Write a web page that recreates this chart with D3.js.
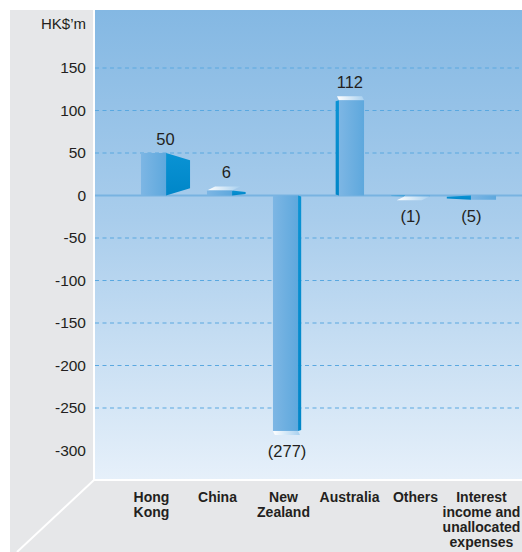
<!DOCTYPE html>
<html>
<head>
<meta charset="utf-8">
<script src="https://cdn.jsdelivr.net/npm/d3@7"></script>
<style>
  html, body { margin: 0; padding: 0; background: #fff; }
  svg { display: block; font-family: 'Liberation Sans', Arial, sans-serif; }
</style>
</head>
<body>
<svg id="chart" width="522" height="552"></svg>
<script>
// Data
var categories = ['Hong Kong', 'China', 'New Zealand', 'Australia', 'Others', 'Interest income and unallocated expenses']
var categoryLines = [['Hong', 'Kong'], ['China'], ['New', 'Zealand'], ['Australia'], ['Others'], ['Interest', 'income and', 'unallocated', 'expenses']]
var values = [50, 6, -277, 112, -1, -5]
var valueLabels = ['50', '6', '(277)', '112', '(1)', '(5)']
var tickValues = [150, 100, 50, 0, -50, -100, -150, -200, -250, -300]
var unitLabel = 'HK$\u2019m'

// Layout
var W = 522, H = 552
var panel = { x: 95, y: 10, w: 427, h: 469 }
var vpX = 318       // where the bars "turn" from right side to left side
var sideK = 0.158   // side depth per px distance from vpX

var svg = d3.select('#chart')
var defs = svg.append('defs')

function vGrad(id, stops, horiz) {
  var g = defs.append('linearGradient').attr('id', id)
    .attr('x1', 0).attr('y1', 0).attr('x2', horiz ? 1 : 0).attr('y2', horiz ? 0 : 1)
  stops.forEach(function(s) {
    g.append('stop').attr('offset', s[0]).attr('stop-color', s[1])
  })
}
vGrad('bgGrad', [[0, '#84b8e3'], [0.45, '#a9cdec'], [1, '#e6f0fa']])
vGrad('frontGrad', [[0, '#7db6e4'], [1, '#5ea8dd']], true)
vGrad('sideGrad', [[0, '#0a93d4'], [1, '#0086c8']])
vGrad('capGrad', [[0, '#ffffff'], [1, '#a8d0ef']], true)

// gray room
svg.append('rect').attr('x', 10).attr('y', 10).attr('width', W - 10).attr('height', H - 10).attr('fill', '#e6e7e9')
svg.append('line').attr('x1', panel.x - 1).attr('y1', panel.y + panel.h + 1)
  .attr('x2', 17).attr('y2', H).attr('stroke', '#fff').attr('stroke-width', 2)
svg.append('rect').attr('x', panel.x - 2).attr('y', panel.y).attr('width', panel.w + 2).attr('height', panel.h + 2).attr('fill', '#fff')
svg.append('rect').attr('x', panel.x).attr('y', panel.y).attr('width', panel.w).attr('height', panel.h).attr('fill', 'url(#bgGrad)')

// scales
var y = d3.scaleLinear().domain([-300, 150]).range([450.5, 68])
var x = d3.scaleBand().domain(categories).range([120.5, 516.5]).paddingInner(0.62).paddingOuter(0.31)
var bw = x.bandwidth()

// axis labels (plain hyphen minus like the print)
var yAxis = d3.axisLeft(y).tickValues(tickValues).tickSize(0).tickPadding(0).tickFormat(function(d) { return String(d) })
var ax = svg.append('g').attr('transform', 'translate(86,0)').call(yAxis)
ax.select('.domain').remove()
ax.selectAll('text').attr('font-size', 15.5).attr('fill', '#231f20')
  .attr('font-family', "'Liberation Sans', Arial, sans-serif")

svg.append('text').attr('x', 86).attr('y', 29).attr('text-anchor', 'end')
  .attr('font-size', 15).attr('fill', '#231f20').text(unitLabel)

// grid
svg.append('g').selectAll('line').data(tickValues.filter(function(d) { return d !== 0 && d !== -300 }))
  .join('line')
  .attr('x1', panel.x).attr('x2', panel.x + panel.w)
  .attr('y1', function(d) { return y(d) }).attr('y2', function(d) { return y(d) })
  .attr('stroke', '#5aa8e0').attr('stroke-width', 1.2).attr('stroke-dasharray', '4,3.5')

svg.append('line').attr('x1', panel.x).attr('x2', panel.x + panel.w)
  .attr('y1', y(0)).attr('y2', y(0)).attr('stroke', '#78b3e1').attr('stroke-width', 2)

// bars
var bars = svg.append('g')
categories.forEach(function(c, i) {
  var v = values[i]
  var x0 = x(c), x1 = x0 + bw
  var yv = y(v), y0 = y(0)
  var top = Math.min(yv, y0), bot = Math.max(yv, y0)
  var h = bot - top
  var onLeft = x0 + bw / 2 < vpX
  var edge = onLeft ? x1 : x0
  var sw = (vpX - edge) * sideK          // signed: + goes right, - goes left
  var inset = Math.min(Math.abs(sw) * 0.3, h * 0.3)
  var far = edge + sw
  // side face
  bars.append('path')
    .attr('d', d3.line()([[edge, top], [far, top + inset], [far, bot - inset], [edge, bot]]) + 'Z')
    .attr('fill', 'url(#sideGrad)')
  // cap face (top for positive, bottom for negative), skipped when side is wide
  var cap = 0
  if (Math.abs(sw) < 20) {
    cap = 4
    var cy = v >= 0 ? top : bot
    var d = v >= 0 ? -cap : cap
    bars.append('path')
      .attr('d', d3.line()([[x0, cy], [x1, cy], [x1 + sw * 0.6, cy + d], [x0 + sw * 0.6, cy + d]]) + 'Z')
      .attr('fill', 'url(#capGrad)')
  }
  // front face
  bars.append('rect').attr('x', x0).attr('y', top).attr('width', bw).attr('height', Math.max(h, 0.8))
    .attr('fill', 'url(#frontGrad)')

  // value label
  var lx = (Math.min(x0, far) + Math.max(x1, far)) / 2
  var ly = v >= 0 ? top - 8 - cap : bot + 22 + cap
  svg.append('text').attr('x', lx).attr('y', ly).attr('text-anchor', 'middle')
    .attr('font-size', 16.5).attr('fill', '#231f20').text(valueLabels[i])
})

// category labels
var cat = svg.append('g')
categories.forEach(function(c, i) {
  var t = cat.append('text').attr('x', x(c) + bw / 2 - 2).attr('y', 502)
    .attr('text-anchor', 'middle').attr('font-size', 14).attr('font-weight', 'bold').attr('fill', '#231f20')
  categoryLines[i].forEach(function(s, k) {
    t.append('tspan').attr('x', x(c) + bw / 2 - 2).attr('dy', k === 0 ? 0 : 15).text(s)
  })
})
</script>
</body>
</html>
